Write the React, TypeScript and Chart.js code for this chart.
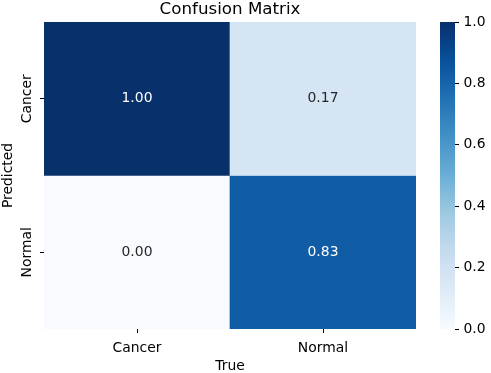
import React, { useEffect, useRef } from "react";
import { Chart, registerables } from "chart.js";

Chart.register(...registerables);

// ---- data ----
const trueLabels = ["Cancer", "Normal"];
const predictedLabels = ["Cancer", "Normal"];
const cancerRow = [1.0, 0.17];
const normalRow = [0.0, 0.83];
const colorbarTicks = [0.0, 0.2, 0.4, 0.6, 0.8, 1.0];
const BLUES = ["#f7fbff", "#deebf7", "#c6dbef", "#9ecae1", "#6baed6", "#4292c6", "#2171b5", "#08519c", "#08306b"];

const FONT = "'DejaVu Sans', sans-serif";
const FS = 13.9;

function hexToRgb(h: string) {
  const n = parseInt(h.slice(1), 16);
  return [(n >> 16) & 255, (n >> 8) & 255, n & 255];
}

function blues(v: number) {
  const t = Math.max(0, Math.min(1, v)) * (BLUES.length - 1);
  const i = Math.min(Math.floor(t), BLUES.length - 2);
  const f = t - i;
  const a = hexToRgb(BLUES[i]);
  const b = hexToRgb(BLUES[i + 1]);
  const c = a.map((x, k) => Math.round(x + (b[k] - x) * f));
  return `rgb(${c[0]},${c[1]},${c[2]})`;
}

const rows = [cancerRow, normalRow];

const annotatePlugin = {
  id: "annot",
  afterDatasetsDraw(chart: any) {
    const ctx = chart.ctx;
    ctx.save();
    ctx.font = `${FS}px ${FONT}`;
    ctx.textAlign = "center";
    ctx.textBaseline = "middle";
    rows.forEach((row, r) => {
      const meta = chart.getDatasetMeta(r);
      meta.data.forEach((bar: any, c: number) => {
        const { x, y, base } = bar.getProps(["x", "y", "base"], true);
        const v = row[c];
        ctx.fillStyle = v > 0.5 ? "#ffffff" : "#262626";
        ctx.fillText(v.toFixed(2), x, (y + base) / 2);
      });
    });
    ctx.restore();
  },
};

export default function App() {
  const mainRef = useRef<HTMLCanvasElement>(null);
  const cbRef = useRef<HTMLCanvasElement>(null);

  useEffect(() => {
    document.body.style.margin = "0";
    const tickFont = { family: FONT, size: FS };
    const gridOpts = {
      offset: false,
      drawOnChartArea: false,
      drawTicks: true,
      tickLength: 4,
      color: "#000",
      lineWidth: 1,
    };

    const main = new Chart(mainRef.current!, {
      type: "bar",
      data: {
        labels: trueLabels,
        datasets: rows.map((row, r) => ({
          label: predictedLabels[r],
          data: row.map(() => [r, r + 1]),
          backgroundColor: row.map(blues),
          borderWidth: 0,
          barPercentage: 1,
          categoryPercentage: 1,
          grouped: false,
        })) as any,
      },
      options: {
        animation: false,
        responsive: false,
        events: [],
        layout: { padding: { left: 0, right: 14, top: 0, bottom: 0 } },
        plugins: {
          legend: { display: false },
          tooltip: { enabled: false },
          title: {
            display: true,
            text: "Confusion Matrix",
            color: "#000",
            fullSize: false,
            font: { family: FONT, size: 16.7, weight: "normal", lineHeight: 1.2 },
            padding: { top: 0, bottom: 2 },
          },
        },
        scales: {
          x: {
            type: "category",
            offset: true,
            grid: gridOpts,
            border: { display: false },
            ticks: { color: "#000", font: tickFont, padding: 7, minRotation: 0, maxRotation: 0 },
            title: {
              display: true,
              text: "True",
              color: "#000",
              font: { family: FONT, size: FS, lineHeight: 1 },
              padding: 0,
            },
            afterFit: (s: any) => {
              s.height = 44;
            },
          },
          y: {
            type: "linear",
            min: 0,
            max: predictedLabels.length,
            reverse: true,
            afterBuildTicks: (s: any) => {
              s.ticks = predictedLabels.map((_, i) => ({ value: i + 0.5 }));
            },
            grid: gridOpts,
            border: { display: false },
            ticks: {
              color: "#000",
              font: tickFont,
              minRotation: 90,
              maxRotation: 90,
              crossAlign: "center",
              padding: -12.25,
              callback: (v: any) => predictedLabels[Math.floor(Number(v))],
            },
            title: {
              display: true,
              text: "Predicted",
              color: "#000",
              font: { family: FONT, size: FS, lineHeight: 1.2 },
              padding: 0,
            },
            afterFit: (s: any) => {
              s.width = 44;
            },
          },
        },
      } as any,
      plugins: [annotatePlugin],
    });

    const cb = new Chart(cbRef.current!, {
      type: "bar",
      data: {
        labels: [""],
        datasets: [
          {
            data: [[colorbarTicks[0], colorbarTicks[colorbarTicks.length - 1]]] as any,
            backgroundColor: (c: any) => {
              const area = c.chart.chartArea;
              if (!area) return BLUES[0];
              const g = c.chart.ctx.createLinearGradient(0, area.bottom, 0, area.top);
              BLUES.forEach((col, i) => g.addColorStop(i / (BLUES.length - 1), col));
              return g;
            },
            borderWidth: 0,
            barPercentage: 1,
            categoryPercentage: 1,
          },
        ],
      },
      options: {
        animation: false,
        responsive: false,
        events: [],
        layout: { padding: { left: 10, right: 0, top: 22, bottom: 44 } },
        plugins: { legend: { display: false }, tooltip: { enabled: false } },
        scales: {
          x: { display: false },
          y: {
            position: "right",
            min: colorbarTicks[0],
            max: colorbarTicks[colorbarTicks.length - 1],
            afterBuildTicks: (s: any) => {
              s.ticks = colorbarTicks.map((v) => ({ value: v }));
            },
            grid: { drawOnChartArea: false, drawTicks: true, tickLength: 4, color: "#000", lineWidth: 1 },
            border: { display: false },
            ticks: {
              color: "#000",
              font: tickFont,
              padding: 4.5,
              callback: (v: any) => Number(v).toFixed(1),
            },
            afterFit: (s: any) => {
              s.width = 36;
            },
          },
        },
      } as any,
    });

    return () => {
      main.destroy();
      cb.destroy();
    };
  }, []);

  return (
    <div style={{ position: "relative", width: 491, height: 373, background: "#fff" }}>
      <canvas
        ref={mainRef}
        width={430}
        height={373}
        style={{ position: "absolute", left: 0, top: 0, width: 430, height: 373 }}
      />
      <canvas
        ref={cbRef}
        width={61}
        height={373}
        style={{ position: "absolute", left: 430, top: 0, width: 61, height: 373 }}
      />
    </div>
  );
}
